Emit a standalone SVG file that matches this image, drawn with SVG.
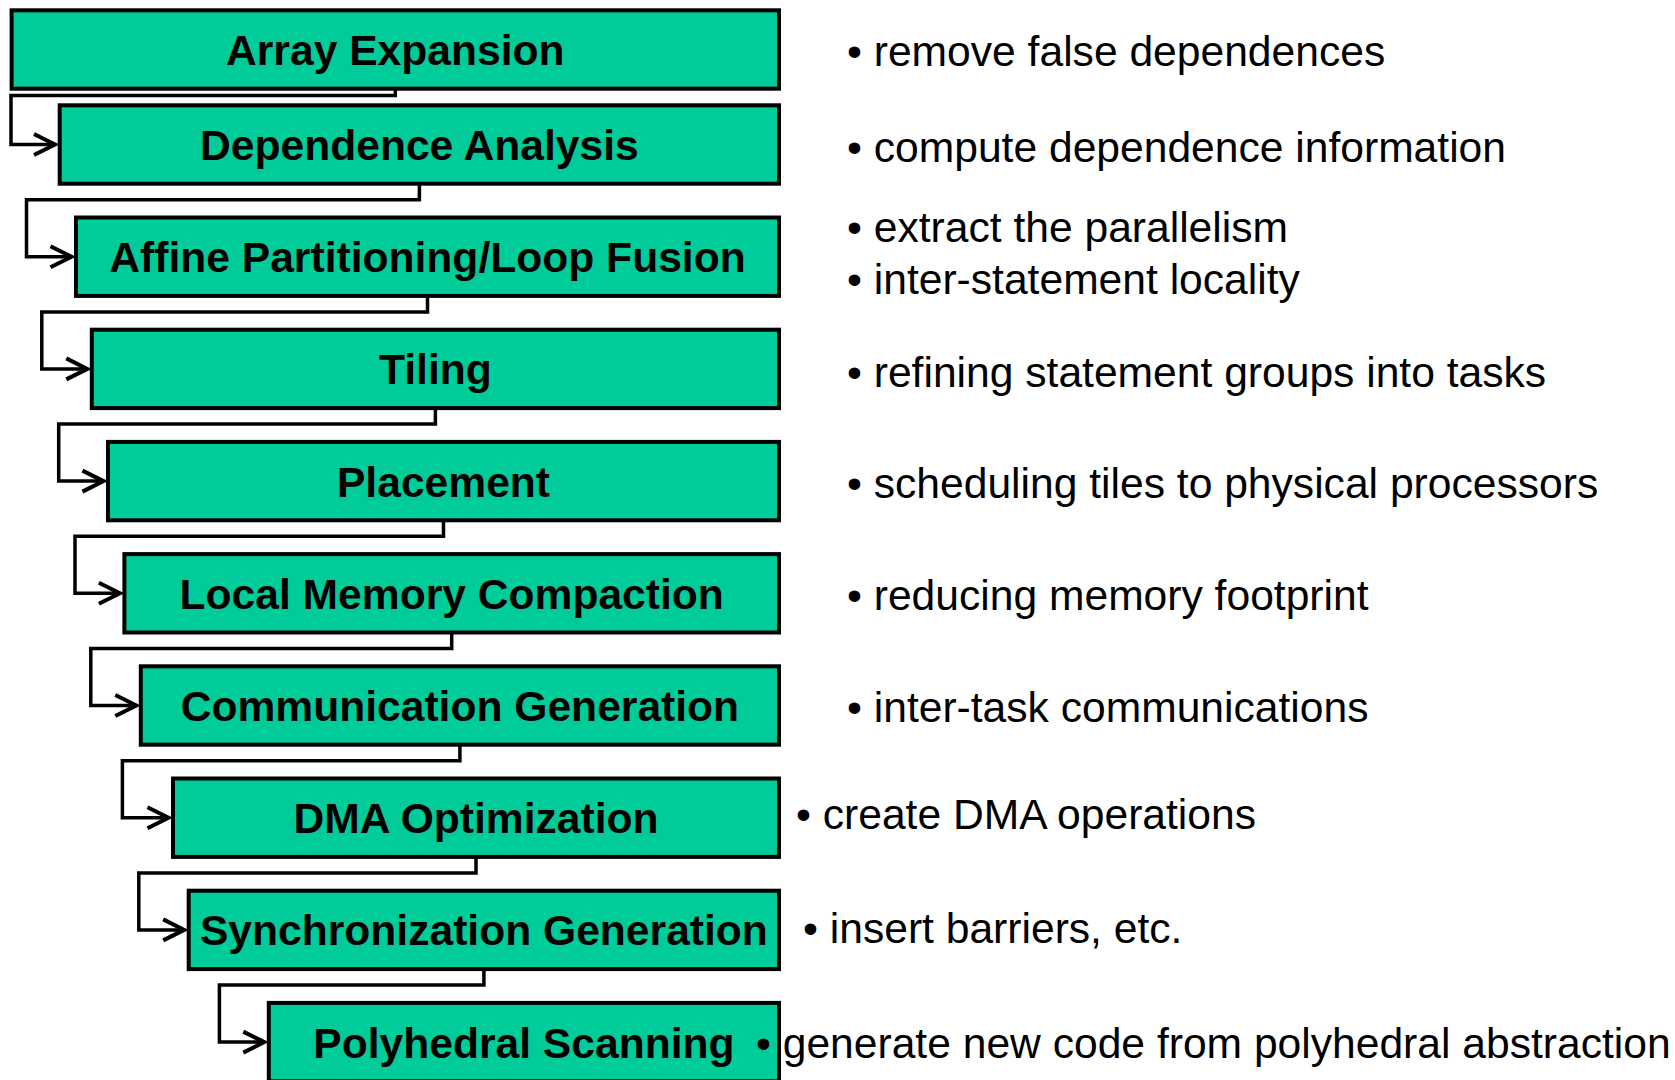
<svg xmlns="http://www.w3.org/2000/svg" width="1675" height="1080" viewBox="0 0 1675 1080">
<style>
.box{fill:#00CC99;stroke:#000;stroke-width:4}
.lbl{font-family:"Liberation Sans",Arial,sans-serif;font-weight:bold;font-size:42.6px;fill:#000;text-anchor:middle}
.desc{font-family:"Liberation Sans",Arial,sans-serif;font-size:42.6px;fill:#000}
.conn{fill:none;stroke:#000;stroke-width:3.5;marker-end:url(#arr)}
</style>
<defs>
<marker id="arr" markerUnits="userSpaceOnUse" markerWidth="30" markerHeight="30" refX="21" refY="10.5" orient="auto" overflow="visible">
<path d="M0,0 L21,10.5 L0,21" fill="none" stroke="#000" stroke-width="4"/>
</marker>
</defs>
<rect width="1675" height="1080" fill="#fff"/>
<g id="connectors">
<path class="conn" d="M395.3,90 V95.5 H11 V144.5 H55"/>
<path class="conn" d="M419.4,185 V199.7 H26.5 V256.7 H71.5"/>
<path class="conn" d="M427.5,297 V311.9 H41.8 V368.9 H87.3"/>
<path class="conn" d="M435.4,409 V424.1 H58.7 V481.1 H103.5"/>
<path class="conn" d="M443.5,521 V536.3 H75 V593.3 H119.9"/>
<path class="conn" d="M451.7,634 V648.5 H90.8 V705.5 H136.3"/>
<path class="conn" d="M459.9,746 V760.7 H122.4 V817.7 H168.5"/>
<path class="conn" d="M476,858 V872.9 H138.8 V929.9 H184.2"/>
<path class="conn" d="M483.9,970 V985.1 H219.4 V1042.1 H264.3"/>
</g>
<g id="n1"><rect class="box" x="11.6" y="10.3" width="767.4" height="78.4"/><text class="lbl" x="395.3" y="65">Array Expansion</text><text class="desc" x="847" y="66">• remove false dependences</text></g>
<g id="n2"><rect class="box" x="59.7" y="105.3" width="719.3" height="78.4"/><text class="lbl" x="419.4" y="160">Dependence Analysis</text><text class="desc" x="847" y="162">• compute dependence information</text></g>
<g id="n3"><rect class="box" x="76" y="217.5" width="703" height="78.4"/><text class="lbl" x="427.5" y="272.2">Affine Partitioning/Loop Fusion</text><text class="desc" x="847" y="242">• extract the parallelism</text><text class="desc" x="847" y="294">• inter-statement locality</text></g>
<g id="n4"><rect class="box" x="91.8" y="329.7" width="687.2" height="78.4"/><text class="lbl" x="435.4" y="384.4">Tiling</text><text class="desc" x="847" y="386.5">• refining statement groups into tasks</text></g>
<g id="n5"><rect class="box" x="108" y="441.9" width="671" height="78.4"/><text class="lbl" x="443.5" y="496.6">Placement</text><text class="desc" x="847" y="498">• scheduling tiles to physical processors</text></g>
<g id="n6"><rect class="box" x="124.4" y="554.1" width="654.6" height="78.4"/><text class="lbl" x="451.7" y="608.8">Local Memory Compaction</text><text class="desc" x="847" y="610">• reducing memory footprint</text></g>
<g id="n7"><rect class="box" x="140.8" y="666.3" width="638.2" height="78.4"/><text class="lbl" x="459.9" y="721">Communication Generation</text><text class="desc" x="847" y="722">• inter-task communications</text></g>
<g id="n8"><rect class="box" x="173" y="778.5" width="606" height="78.4"/><text class="lbl" x="476" y="833.2">DMA Optimization</text><text class="desc" x="796" y="829">• create DMA operations</text></g>
<g id="n9"><rect class="box" x="188.7" y="890.7" width="590.3" height="78.4"/><text class="lbl" x="483.9" y="945.4">Synchronization Generation</text><text class="desc" x="803" y="943">• insert barriers, etc.</text></g>
<g id="n10"><rect class="box" x="268.8" y="1002.9" width="510.2" height="78.4"/><text class="lbl" x="523.9" y="1057.6">Polyhedral Scanning</text><text class="desc" x="756" y="1057.5">• generate new code from polyhedral abstraction</text></g>
</svg>
